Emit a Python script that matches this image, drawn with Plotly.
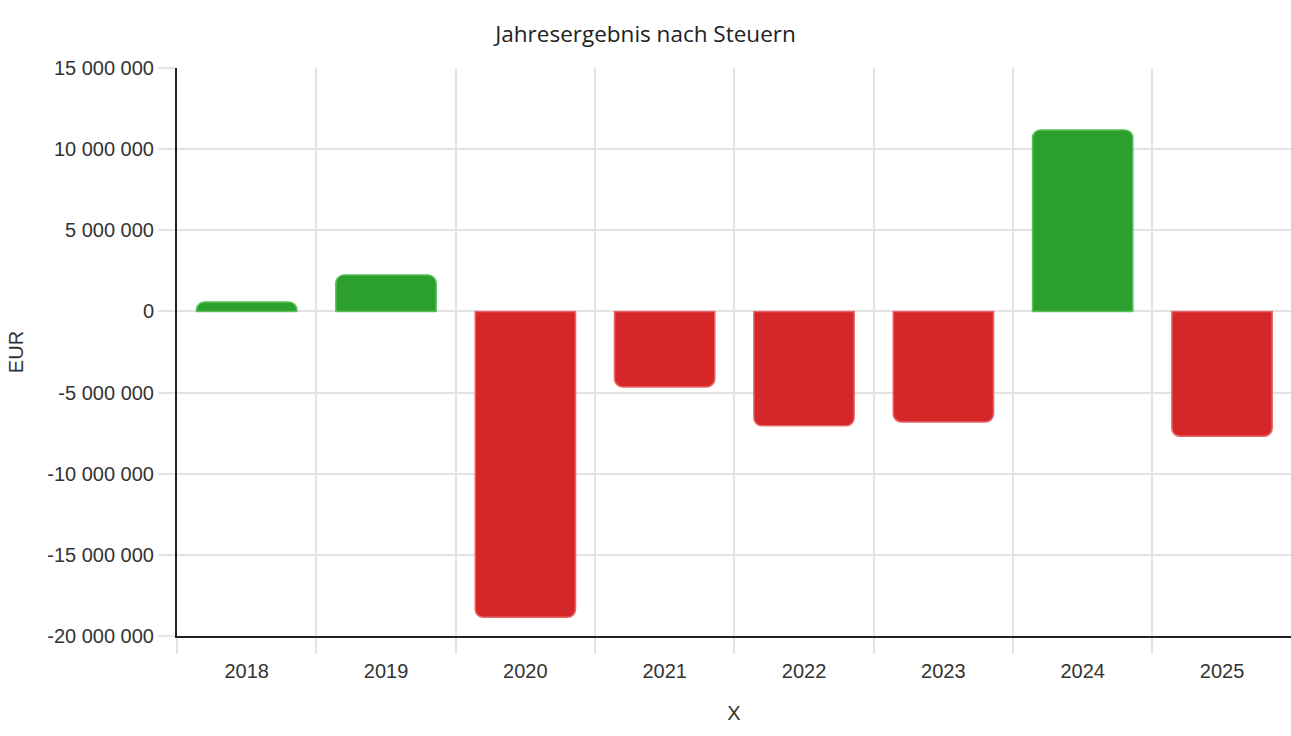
import plotly.graph_objects as go

# Jahresergebnis nach Steuern (EUR)
years = ["2018", "2019", "2020", "2021", "2022", "2023", "2024", "2025"]
results = [580000, 2240000, -18850000, -4650000, -7050000, -6810000, 11180000, -7690000]

y_tickvals = [15000000, 10000000, 5000000, 0, -5000000, -10000000, -15000000, -20000000]
y_ticktext = ["15 000 000", "10 000 000", "5 000 000", "0", "-5 000 000",
              "-10 000 000", "-15 000 000", "-20 000 000"]

green = "#2ca02c"
red = "#d62728"
colors = [green if v >= 0 else red for v in results]
borders = ["#5cbf5c" if v >= 0 else "#e66a6b" for v in results]

fig = go.Figure()

fig.add_trace(go.Bar(
    x=years,
    y=results,
    width=0.72,
    marker=dict(color=colors, line=dict(color=borders, width=1.5), cornerradius=8),
    hovertemplate="%{x}: %{y:,.0f} EUR<extra></extra>",
    showlegend=False
))

fig.update_layout(
    width=1291,
    height=736,
    paper_bgcolor="white",
    plot_bgcolor="white",
    separators=". ",
    margin=dict(l=177, r=0, t=68, b=100),
    title=dict(
        text="Jahresergebnis nach Steuern",
        x=0.5, xanchor="center",
        y=1 - 34 / 736, yanchor="middle", yref="container",
        font=dict(family="Open Sans", size=22.5, color="#222")
    ),
    font=dict(family="Liberation Sans, Arial", size=20, color="#333"),
)

fig.update_xaxes(
    title=dict(text="X", font=dict(size=20, color="#333"), standoff=25),
    type="category",
    tickson="boundaries",
    ticks="outside",
    ticklen=16,
    tickcolor="#e3e3e3",
    tickwidth=1.5,
    ticklabelstandoff=16,
    showgrid=True,
    gridcolor="#e3e3e3",
    gridwidth=1.5,
    showline=True,
    linecolor="#222",
    linewidth=2,
    range=[-0.5, 7.495],  # no boundary gridline at the far right
)

fig.update_yaxes(
    title=dict(text="EUR", font=dict(size=20, color="#333"), standoff=18),
    range=[-20000000, 15000000],
    tickvals=y_tickvals,
    ticktext=y_ticktext,
    ticks="outside",
    ticklen=17,
    tickcolor="#e3e3e3",
    tickwidth=1.5,
    showgrid=True,
    gridcolor="#e3e3e3",
    gridwidth=1.5,
    zeroline=False,
    showline=True,
    linecolor="#222",
    linewidth=2,
)

# drop the default body margin so the figure fills the window exactly
fig.write_html("out.html",
               config={"displayModeBar": False},
               post_script="document.body.style.margin='0';document.body.style.overflow='hidden';")
